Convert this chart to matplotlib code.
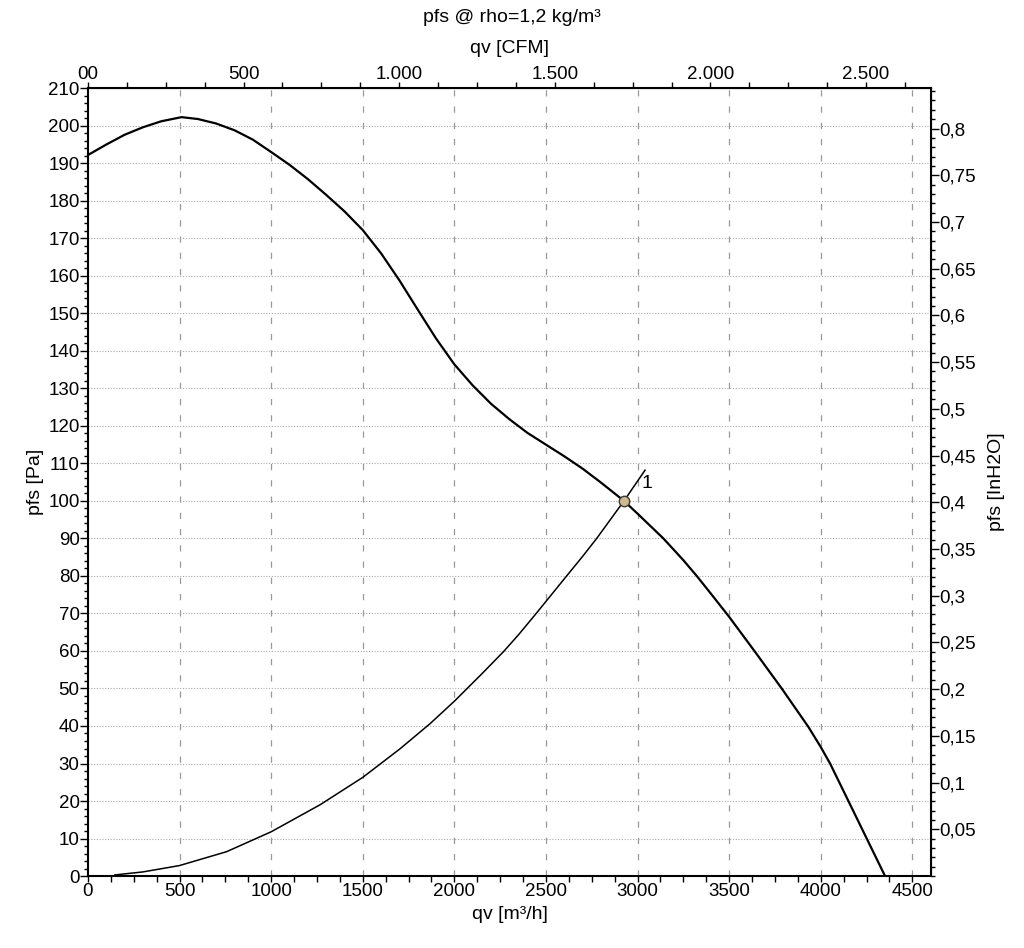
import matplotlib
matplotlib.use("Agg")
import matplotlib.pyplot as plt
from matplotlib.ticker import MultipleLocator, FuncFormatter

plt.rcParams['font.family'] = ['Liberation Sans', 'DejaVu Sans']
plt.rcParams['font.size'] = 13.5

# fan characteristic pfs [Pa] over qv [m3/h]
fan_q = [0, 100, 200, 300, 400, 511, 600, 700, 800, 900, 1000, 1100, 1200,
         1300, 1400, 1500, 1600, 1700, 1800, 1900, 2000, 2100, 2200, 2300,
         2400, 2500, 2600, 2700, 2800, 2926, 3000, 3141, 3250, 3323, 3400,
         3500, 3641, 3787, 3932, 4000, 4051, 4151, 4251, 4351]
fan_p = [192.2, 195.0, 197.6, 199.6, 201.2, 202.3, 201.8, 200.6, 198.8, 196.3,
         193.0, 189.6, 185.8, 181.6, 177.2, 172.2, 166.0, 158.8, 151.0, 143.3,
         136.4, 130.8, 125.9, 121.8, 118.1, 115.0, 111.9, 108.6, 104.9, 100.0,
         96.6, 90.0, 84.2, 80.0, 75.3, 69.1, 59.8, 50.0, 39.8, 34.4, 30.0,
         20.0, 10.0, 0.0]

# system curve
sys_q = [147, 300, 500, 757, 1000, 1267, 1500, 1703, 1867, 2000, 2150, 2268,
         2350, 2440, 2520, 2613, 2700, 2777, 2850, 2926, 3041]
sys_p = [0.3, 1.1, 2.8, 6.5, 11.8, 19.0, 26.3, 33.9, 40.6, 46.6, 53.9, 59.8,
         64.3, 69.6, 74.4, 80.0, 85.2, 90.0, 94.9, 100.0, 108.2]

op_q, op_p = 2926, 100.0
op_label = "1"

CFM = 1.69901    # m3/h per CFM
INH2O = 249.089  # Pa per inH2O

fig = plt.figure(figsize=(10.24, 9.48), dpi=100)
ax = fig.add_axes([0.0859, 0.0759, 0.8233, 0.831])

ax.plot(fan_q, fan_p, color='black', lw=1.6, zorder=3)
ax.plot(sys_q, sys_p, color='black', lw=1.1, zorder=3)
ax.plot(op_q, op_p, 'o', ms=7.5, mfc='#cdbb8e', mec='#3a3a3a', mew=1.0, zorder=4)
ax.text(op_q + 95, op_p + 4.6, op_label, fontsize=14, va='center', ha='left')

ax.set_xlim(0, 4602)
ax.set_ylim(0, 210)

ax.set_xticks(range(0, 4501, 500))
ax.xaxis.set_minor_locator(MultipleLocator(125))
ax.set_yticks(range(0, 211, 10))
ax.yaxis.set_minor_locator(MultipleLocator(2))

ax.tick_params(axis='x', which='both', length=4, width=1, pad=1)
ax.tick_params(axis='y', which='major', length=6, width=1, pad=0)
ax.tick_params(axis='y', which='minor', length=3, width=1)
for s in ax.spines.values():
    s.set_linewidth(1.5)

# grid
for q in range(500, 4501, 500):
    ax.axvline(q, color='#999999', lw=0.9, ls=(0, (5, 8)), zorder=1)
for p in range(10, 201, 10):
    ax.axhline(p, color='#aaaaaa', lw=0.8, ls=(0, (1, 1.5)), zorder=1)

ax.set_xlabel("qv [m³/h]", fontsize=14, labelpad=4)
ax.set_ylabel("pfs [Pa]", fontsize=14, labelpad=3)

# top axis in CFM
top = ax.secondary_xaxis('top', functions=(lambda x: x / CFM, lambda x: x * CFM))
top.set_xticks(range(0, 2501, 500))
top.xaxis.set_minor_locator(MultipleLocator(125))
top.xaxis.set_major_formatter(FuncFormatter(
    lambda v, pos: "00" if v == 0 else f"{int(v):,}".replace(",", ".")))
top.tick_params(axis='x', which='both', length=4, width=1, pad=0)
top.set_xlabel("qv [CFM]", fontsize=14, labelpad=9)

# right axis in inH2O
right = ax.secondary_yaxis('right', functions=(lambda p: p / INH2O, lambda v: v * INH2O))
right.set_yticks([i * 0.05 for i in range(1, 17)])
right.yaxis.set_minor_locator(MultipleLocator(0.01))
right.yaxis.set_major_formatter(FuncFormatter(
    lambda v, pos: f"{v:.2f}".rstrip('0').rstrip('.').replace('.', ',')))
right.tick_params(axis='y', which='major', length=6, width=1, pad=0)
right.tick_params(axis='y', which='minor', length=3, width=1)
right.set_ylabel("pfs [InH2O]", fontsize=14, labelpad=9)

fig.text(0.5, 0.982, "pfs @ rho=1,2 kg/m³", ha='center', va='center', fontsize=14)

fig.savefig("out.png", dpi=100)
